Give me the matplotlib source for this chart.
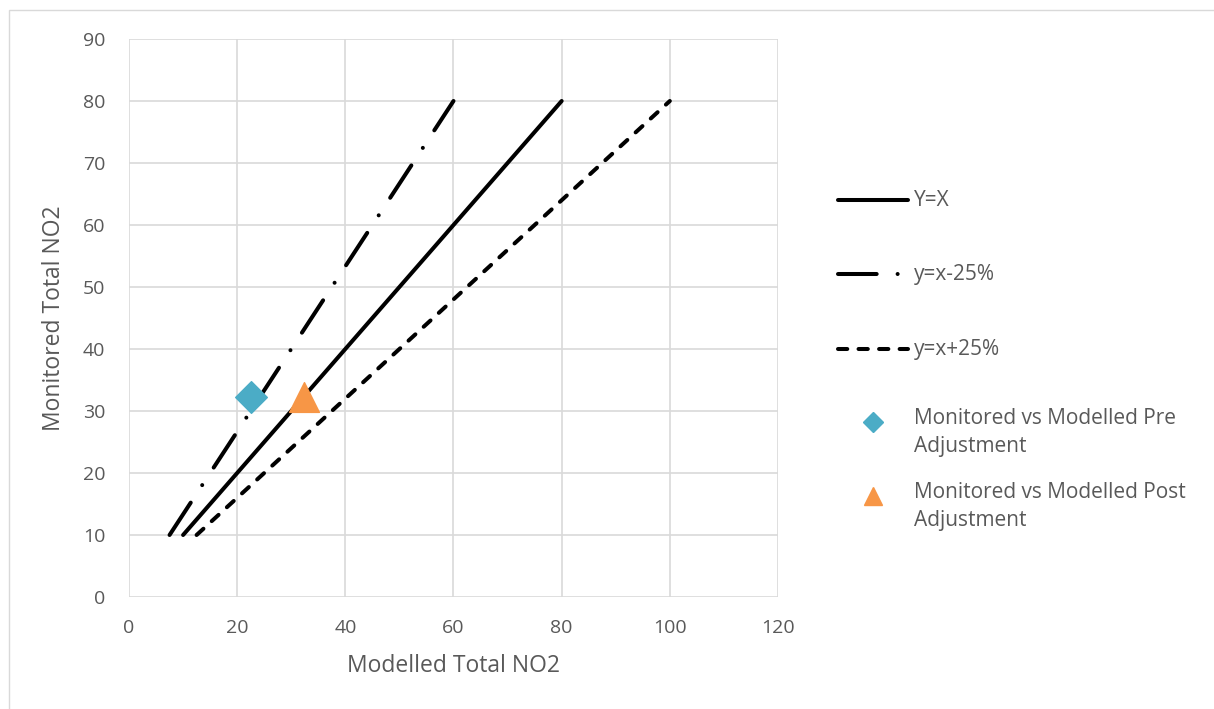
import matplotlib.pyplot as plt
from matplotlib.patches import Rectangle
from matplotlib.lines import Line2D

# Линии сравнения
line_y = [10, 80]
yx_x = [10, 80]
minus25_x = [7.5, 60]
plus25_x = [12.5, 100]

# Точки мониторинга
pre_x, pre_y = [22.5], [32.2]
post_x, post_y = [32.3], [32.2]

line_labels = ['Y=X', 'y=x-25%', 'y=x+25%']
point_labels = ['Monitored vs Modelled Pre\nAdjustment',
                'Monitored vs Modelled Post\nAdjustment']

plt.rcParams['font.family'] = ['Open Sans', 'DejaVu Sans']
grey = '#595959'
lw = 2.9
dashdot = (0, (9.6, 5.2, 0.01, 5.2))
dashed = (0, (2.3, 2.8))

W, H = 1214, 709
fig = plt.figure(figsize=(W / 100, H / 100), dpi=100)
ax = fig.add_axes([129 / W, 1 - 597 / H, (778 - 129) / W, (597 - 39) / H])


def fx(px):
    return px / W


def fy(py):
    return 1 - py / H


# Рамка вокруг диаграммы
fig.patches.append(Rectangle((fx(9), -0.1), 1.2, fy(10) + 0.1,
                             transform=fig.transFigure, fill=False,
                             edgecolor='#d9d9d9', linewidth=1))

ax.plot(yx_x, line_y, color='black', linewidth=lw, solid_capstyle='round')
ax.plot(minus25_x, line_y, color='black', linewidth=lw, dash_capstyle='round',
        linestyle=dashdot)
ax.plot(plus25_x, line_y, color='black', linewidth=lw, dash_capstyle='round',
        linestyle=dashed)
ax.scatter(pre_x, pre_y, marker='D', s=260, color='#4BACC6', zorder=5)
ax.scatter(post_x, post_y, marker='^', s=460, color='#F79646', zorder=5)

ax.set_xlim(0, 120)
ax.set_ylim(0, 90)
ax.set_xticks(range(0, 121, 20))
ax.set_yticks(range(0, 91, 10))
ax.grid(True, color='#d9d9d9', linewidth=1.2)
ax.set_axisbelow(True)
for s in ax.spines.values():
    s.set_visible(False)
ax.tick_params(axis='x', length=0, labelsize=14, colors=grey, pad=16)
ax.tick_params(axis='y', length=0, labelsize=14, colors=grey, pad=17)

ax.set_xlabel('Modelled Total NO2', fontsize=16.5, color=grey, labelpad=12)
ax.set_ylabel('Monitored Total NO2', fontsize=16.5, color=grey, labelpad=12)

# Легенда справа
styles = ['-', dashdot, dashed]
for i, (lab, ls) in enumerate(zip(line_labels, styles)):
    py = 200 + i * 74.5
    fig.add_artist(Line2D([fx(838), fx(908)], [fy(py), fy(py)], transform=fig.transFigure,
                          color='black', linewidth=lw, linestyle=ls,
                          solid_capstyle='round', dash_capstyle='round'))
    fig.text(fx(914), fy(py), lab, fontsize=15, color=grey, va='center', ha='left')

marks = [('D', 95, '#4BACC6'), ('^', 150, '#F79646')]
for i, (lab, (m, s, c)) in enumerate(zip(point_labels, marks)):
    py = 422 + i * 74
    fig.add_artist(Line2D([fx(873)], [fy(py)], transform=fig.transFigure, marker=m,
                          markersize=s ** 0.5, color=c, linestyle='none'))
    fig.text(fx(914), fy(py - 14), lab, fontsize=15, color=grey, va='top', ha='left',
             linespacing=1.45)

plt.savefig('out.png')
